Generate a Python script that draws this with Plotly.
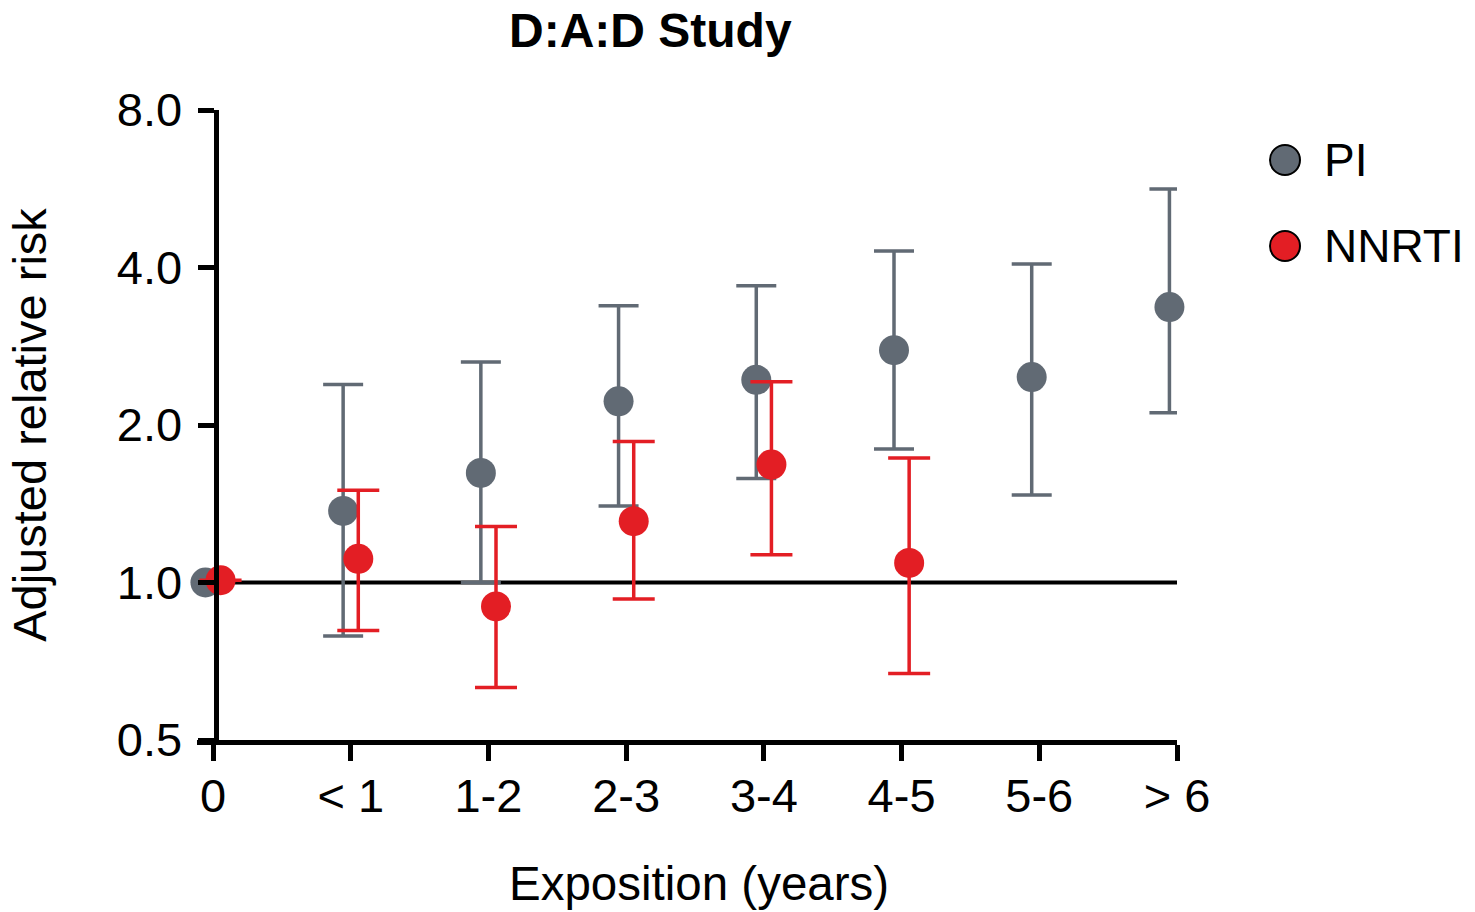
import plotly.graph_objects as go

categories = ["0", "< 1", "1-2", "2-3", "3-4", "4-5", "5-6", "> 6"]

pi_rr = [1.0, 1.37, 1.62, 2.22, 2.44, 2.78, 2.47, 3.36]
pi_upper = [1.0, 2.39, 2.64, 3.38, 3.69, 4.30, 4.06, 5.65]
pi_lower = [1.0, 0.79, 1.00, 1.40, 1.58, 1.80, 1.47, 2.11]

nnrti_rr = [1.01, 1.11, 0.90, 1.31, 1.68, 1.09]
nnrti_upper = [1.01, 1.50, 1.28, 1.86, 2.42, 1.73]
nnrti_lower = [1.01, 0.81, 0.63, 0.93, 1.13, 0.67]

y_ticks = [0.5, 1, 2, 4, 8]
y_ticktext = ["0.5", "1.0", "2.0", "4.0", "8.0"]

GREY = "#616A74"
RED = "#E31E24"
FONT = "Liberation Sans, Arial, sans-serif"

# ---- layout geometry (page pixels; body margin removed via post_script) ----
X0_PX, X7_PX, TOP_PX, BOT_PX = 213, 1177, 110, 740
N = len(categories) - 1
UNIT = (X7_PX - X0_PX) / N
PAD_PX = 16
XMIN = -PAD_PX / UNIT
DOM_L = X0_PX - PAD_PX
W, H = 1475, 912


def px_x(p):
    return (p - DOM_L) / (X7_PX - DOM_L)


def px_y(p):
    return (BOT_PX - p) / (BOT_PX - TOP_PX)


fig = go.Figure()


def add_series(rr, up, lo, color, shift, capw):
    xs = [i + shift for i in range(len(rr))]
    fig.add_trace(go.Scatter(
        x=xs, y=rr, mode="markers",
        marker=dict(size=30, color=color, line=dict(width=0)),
        error_y=dict(type="data", symmetric=False,
                     array=[u - r for u, r in zip(up, rr)],
                     arrayminus=[r - l for r, l in zip(rr, lo)],
                     color=color, thickness=3.5, width=capw),
        cliponaxis=False, showlegend=False,
    ))


add_series(pi_rr, pi_upper, pi_lower, GREY, -0.055, 20)
add_series(nnrti_rr, nnrti_upper, nnrti_lower, RED, 0.055, 21)

# reference line at RR = 1
fig.add_shape(type="line", xref="x", yref="y", x0=0, x1=N,
              y0=1, y1=1, line=dict(color="black", width=4), layer="below")

# legend (drawn manually so markers keep their size)
legend_items = [("PI", GREY, 160), ("NNRTI", RED, 246)]
for name, color, ypx in legend_items:
    fig.add_shape(type="circle", xref="paper", yref="paper",
                  xsizemode="pixel", ysizemode="pixel",
                  xanchor=px_x(1285), yanchor=px_y(ypx), x0=-15, x1=15, y0=-15, y1=15,
                  fillcolor=color, line=dict(color="black", width=2))
    fig.add_annotation(text=name, xref="paper", yref="paper", x=px_x(1322), y=px_y(ypx),
                       xanchor="left", yanchor="middle", showarrow=False,
                       font=dict(size=46, color="black", family=FONT))

fig.add_annotation(text="<b>D:A:D Study</b>", xref="paper", yref="paper",
                   x=px_x(650), y=1.0, yshift=51, xanchor="center", yanchor="bottom",
                   showarrow=False, font=dict(size=48, color="black", family=FONT))

fig.add_annotation(text="Exposition (years)", xref="paper", yref="paper",
                   x=px_x(699), y=px_y(883), xanchor="center", yanchor="middle",
                   showarrow=False, font=dict(size=47.5, color="black", family=FONT))

fig.update_xaxes(
    range=[XMIN, N], tickvals=list(range(len(categories))),
    ticktext=categories, showline=True, linecolor="black", linewidth=5,
    ticks="outside", ticklen=16, tickwidth=5, tickcolor="black",
    showgrid=False, zeroline=False, ticklabelstandoff=-5,
    tickfont=dict(size=47, color="black", family=FONT),
)
fig.update_yaxes(
    type="log", range=[-0.30103, 0.90309], tickvals=y_ticks, ticktext=y_ticktext,
    anchor="free", position=px_x(X0_PX + 2.5),
    showline=True, linecolor="black", linewidth=5,
    ticks="outside", ticklen=16, tickwidth=5, tickcolor="black",
    showgrid=False, zeroline=False, ticklabelstandoff=6,
    tickfont=dict(size=47, color="black", family=FONT),
    title=dict(text="Adjusted relative risk", font=dict(size=47, color="black", family=FONT),
               standoff=54),
)

fig.update_layout(
    width=W, height=H,
    margin=dict(l=DOM_L, r=W - X7_PX, t=TOP_PX, b=H - BOT_PX, autoexpand=False),
    plot_bgcolor="white", paper_bgcolor="white",
    showlegend=False,
    font=dict(family=FONT, color="black"),
)

fig.write_html("out.html", config={"displayModeBar": False},
               post_script="document.body.style.margin='0';document.body.style.overflow='hidden';")
